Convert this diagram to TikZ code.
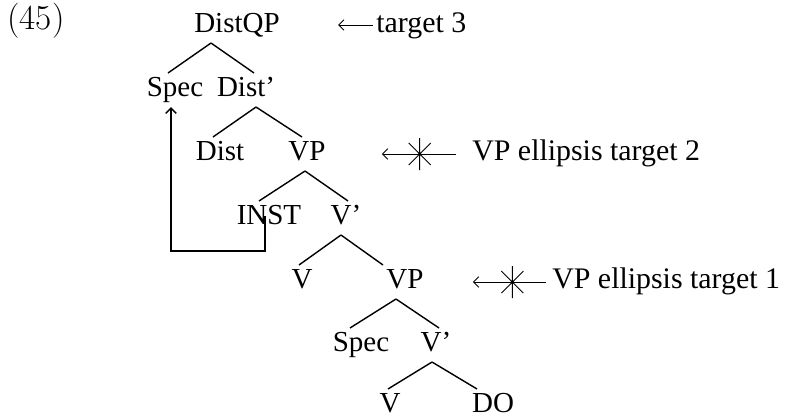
\documentclass[tikz,border=0pt]{standalone}
\usepackage{fontspec}
\newfontfamily\tms{Liberation Serif}
\usetikzlibrary{arrows.meta}

\tikzset{
  lab/.style={font=\tms\fontsize{16.5}{20}\selectfont,inner sep=0pt,
              text height=11pt,text depth=0pt},
  tgt/.style={lab,anchor=west,font=\tms\fontsize{17}{20}\selectfont},
  branch/.style={line width=0.8pt},
  tgtarrow/.style={line width=0.5pt,{Straight Barb[length=3pt,width=6pt]}-},
  elstar/.pic={
    \draw[line width=0.5pt] (0,-16) -- (0,16) (-11,-11) -- (11,11) (-11,11) -- (11,-11);
    \fill (0,0) circle (1.8);
  }
}

\begin{document}
\begin{tikzpicture}[x=0.02cm,y=-0.02cm]
  \useasboundingbox (0,0) rectangle (791,417);
  % Example number
  \node[anchor=west,inner sep=0pt,font=\fontsize{20}{24}\selectfont] (ex) at (7,21) {(45)};
  % Tree labels
  \node[lab] (dqp)    at (237,23)  {DistQP};
  \node[lab] (spec1)  at (175,87)  {Spec};
  \node[lab] (distbar) at (246,87) {Dist’};
  \node[lab] (dist)   at (220,151) {Dist};
  \node[lab] (vp2)    at (307,151) {VP};
  \node[lab] (inst)   at (269,215) {INST};
  \node[lab] (vbar3)  at (346,215) {V’};
  \node[lab] (v4)     at (302,279) {V};
  \node[lab] (vp4)    at (405,279) {VP};
  \node[lab] (spec5)  at (361,342) {Spec};
  \node[lab] (vbar5)  at (436,342) {V’};
  \node[lab] (v6)     at (390,403) {V};
  \node[lab] (do6)    at (493,403) {DO};
  % Branches
  \foreach \p/\c/\a/\b in {dqp/spec1/-26/-7, dqp/distbar/-26/8,
                          distbar/dist/10/-7, distbar/vp2/10/-5,
                          vp2/inst/-2/-10, vp2/vbar3/-2/2,
                          vbar3/v4/-5/-3, vbar3/vp4/-5/-22,
                          vp4/spec5/-9/-11, vp4/vbar5/-9/3,
                          vbar5/v6/-4/-2, vbar5/do6/-4/-16}{
    \draw[branch] ([shift={(\a,10)}]\p.south) -- ([shift={(\b,-4)}]\c.north);
  }
  % Movement of INST to Spec
  \draw[branch,-{Straight Barb[length=3pt,width=6pt]}]
        ([shift={(-4,1)}]inst.center) -- ++(0,35) -| ([shift={(-4,10)}]spec1.south);
  % Targets
  \node[tgt] (t3) at (376,23)  {target 3};
  \node[tgt] (t2) at (472,151) {VP ellipsis target 2};
  \node[tgt] (t1) at (552,279) {VP ellipsis target 1};
  \draw[tgtarrow] ([shift={(58,2)}]dqp.east) -- ([shift={(-3,2)}]t3.west);
  \draw[tgtarrow] ([shift={(56,3)}]vp2.east) -- ([shift={(-16,3)}]t2.west) coordinate[pos=.51] (s2);
  \draw[tgtarrow] ([shift={(49,3)}]vp4.east) -- ([shift={(-6,3)}]t1.west) coordinate[pos=.54] (s1);
  \pic at (s2) {elstar};
  \pic at (s1) {elstar};
\end{tikzpicture}
\end{document}
